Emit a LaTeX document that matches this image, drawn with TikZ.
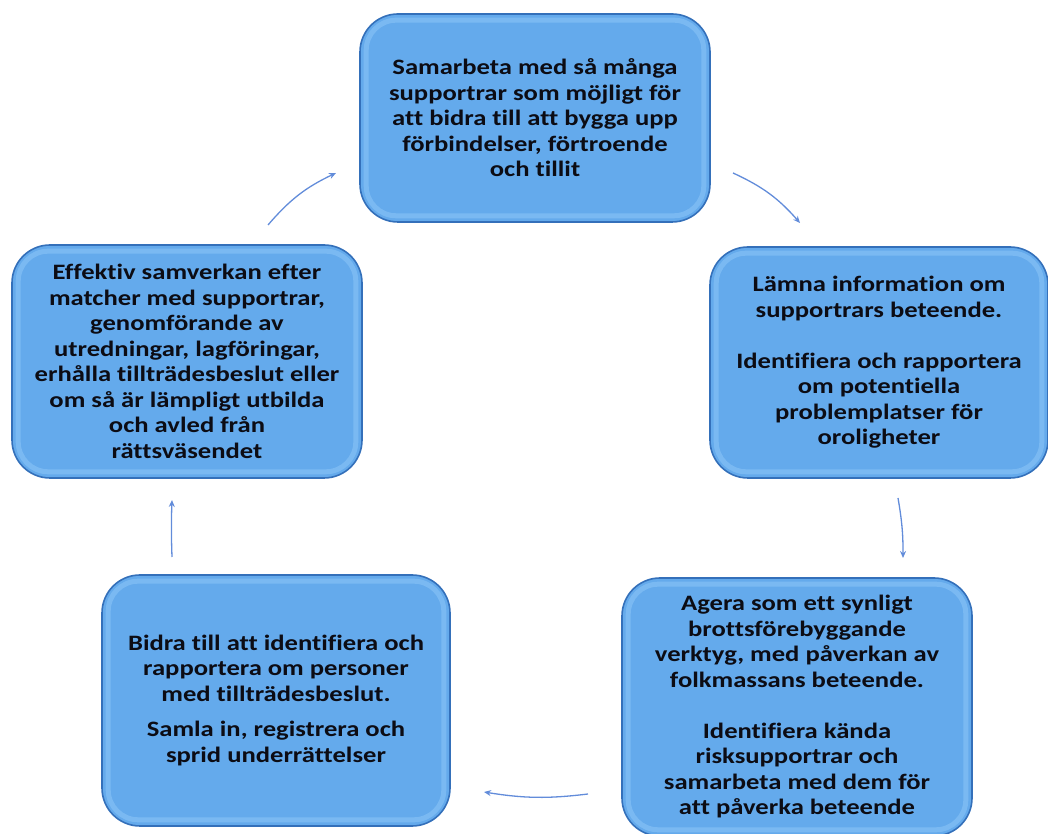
\documentclass[tikz,border=0pt]{standalone}
\usepackage{fontspec}
\setmainfont{Carlito}[FakeStretch=1.21,Ligatures=NoCommon]
\usepackage{xcolor}
\usepackage{tikz}
\usetikzlibrary{arrows.meta,positioning}
\definecolor{BoxBlue}{RGB}{100,170,236}
\definecolor{BoxEdge}{RGB}{52,112,186}
\definecolor{BoxLight}{RGB}{150,205,250}
\definecolor{ArrowBlue}{RGB}{98,140,218}
\definecolor{TextDark}{RGB}{12,12,20}
\tikzset{
  cyclebox/.style={draw=BoxEdge,line width=1.6pt,fill=BoxBlue,rounded corners=38pt,
    inner sep=0pt,align=center,text=TextDark,
    font=\fontsize{22}{25.5}\selectfont\bfseries},
  bevel/.style={draw=BoxLight,line width=5pt,opacity=0.45,rounded corners=30pt},
  cyclearrow/.style={-{Stealth[length=7pt,width=6pt]},draw=ArrowBlue,line width=1.3pt}
}

\begin{document}
\begin{tikzpicture}[x=1pt,y=1pt]
        \useasboundingbox (0,0) rectangle (1048,834);
        % the five steps of the cycle
        \node[cyclebox,minimum width=350pt,minimum height=208pt] (top) at (535,716)
          {Samarbeta med så många\\supportrar som möjligt för\\att bidra till att bygga upp\\förbindelser, förtroende\\och tillit};
        \node[cyclebox,minimum width=338pt,minimum height=231pt] (right) at (879,471.5)
          {Lämna information om\\supportrars beteende.\\[25.5pt]Identifiera och rapportera\\om potentiella\\problemplatser för\\oroligheter};
        \node[cyclebox,minimum width=350pt,minimum height=258pt] (botright) at (797,127)
          {Agera som ett synligt\\brottsförebyggande\\verktyg, med påverkan av\\folkmassans beteende.\\[25.5pt]Identifiera kända\\risksupportrar och\\samarbeta med dem för\\att påverka beteende};
        \node[cyclebox,minimum width=348pt,minimum height=251pt] (botleft) at (276,133.5)
          {Bidra till att identifiera och\\rapportera om personer\\med tillträdesbeslut.\\[10pt]Samla in, registrera och\\sprid underrättelser};
        \node[cyclebox,minimum width=350pt,minimum height=233pt] (left) at (187,472.5)
          {Effektiv samverkan efter\\matcher med supportrar,\\genomförande av\\utredningar, lagföringar,\\erhålla tillträdesbeslut eller\\om så är lämpligt utbilda\\och avled från\\rättsväsendet};
        % inner highlight
        \foreach \n in {top,right,botright,botleft,left}
          \draw[bevel] ([shift={(7pt,7pt)}]\n.south west) rectangle ([shift={(-7pt,-7pt)}]\n.north east);
        % arrow ends
        \coordinate (a1s) at (268,609);
        \coordinate (a1e) at (336,661);
        \coordinate (a2s) at (733,661);
        \coordinate (a2e) at (800,611);
        \coordinate (a3s) at (898,336);
        \coordinate (a3e) at (903,276);
        \coordinate (a4s) at (588,40);
        \coordinate (a4e) at (484,42);
        \coordinate (a5s) at (172,277);
        \coordinate (a5e) at (172,334);
        \draw[cyclearrow] (a1s) to[bend left=12] (a1e);
        \draw[cyclearrow] (a2s) to[bend left=12] (a2e);
        \draw[cyclearrow] (a3s) to[bend left=5] (a3e);
        \draw[cyclearrow] (a4s) to[bend left=8] (a4e);
        \draw[cyclearrow] (a5s) to[bend left=2] (a5e);
      \end{tikzpicture}
\end{document}
